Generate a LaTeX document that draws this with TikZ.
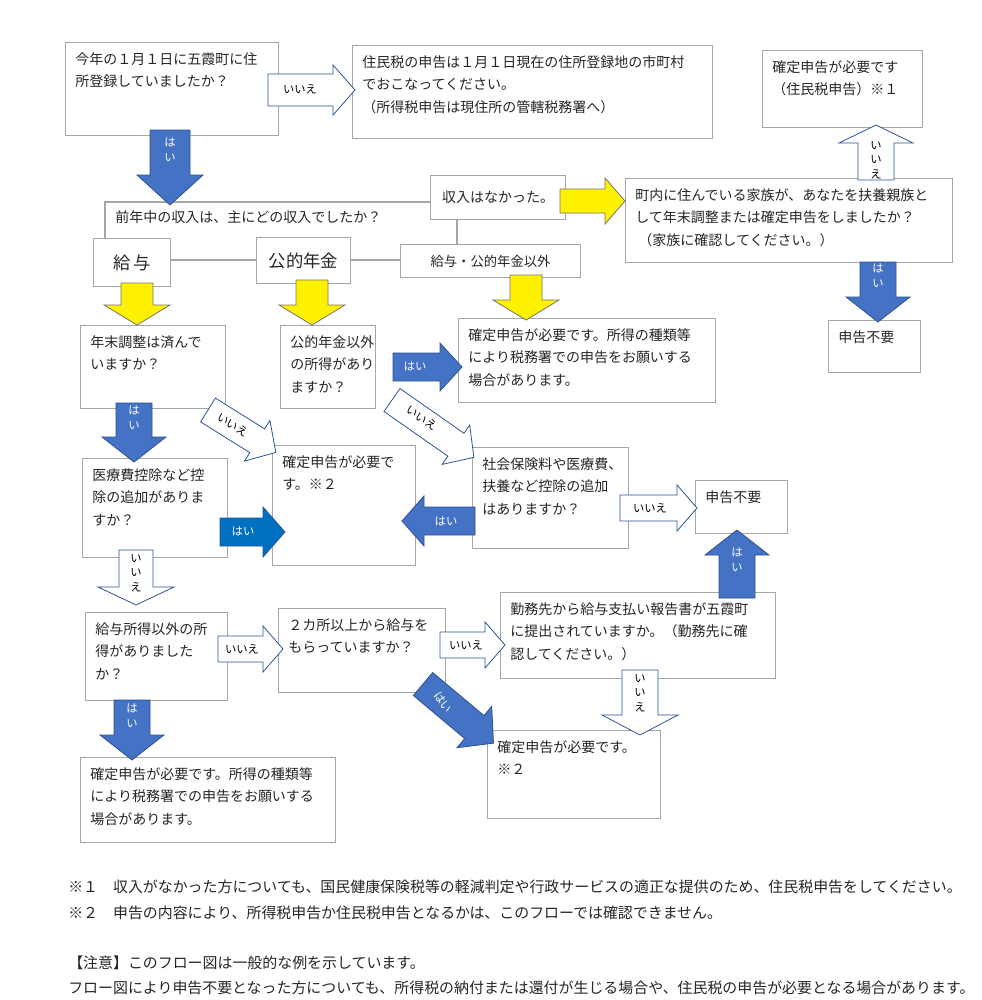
\documentclass[tikz,border=0pt]{standalone}
\usepackage{fontspec}
\setmainfont{Noto Sans CJK JP}
\usetikzlibrary{calc}
\definecolor{bfill}{HTML}{4472C4}
\definecolor{bline}{HTML}{2F528F}
\definecolor{bfill2}{HTML}{0070C0}
\definecolor{wline}{HTML}{2F5597}
\definecolor{boxline}{HTML}{A6A6A6}
\tikzset{
 bx/.style={draw=boxline,line width=0.8pt,fill=white,anchor=north west,inner sep=0pt},
 tx/.style={anchor=north west,align=left,inner sep=0pt,font=\fontsize{10.5}{17}\selectfont,text=black!85},
 nt/.style={anchor=north west,align=left,inner sep=0pt,font=\fontsize{11.2}{17}\selectfont,text=black!85},
 blue/.style={fill=bfill,draw=bline,line width=0.6pt},
 blue2/.style={fill=bfill2,draw=bline,line width=0.6pt},
 yel/.style={fill=yellow,draw=black!55,line width=0.6pt},
 wht/.style={fill=white,draw=wline,line width=0.6pt},
 arrt/.style={font=\fontsize{8.5}{11}\selectfont,align=center,inner sep=0pt},
}
\newcommand\blk[8]{\draw[#1,shift={(#2,#3)},rotate=#4] (0,-#6)--(#5-#8,-#6)--(#5-#8,-#7)--(#5,0)--(#5-#8,#7)--(#5-#8,#6)--(0,#6)--cycle;}
\newcommand\bxx[6]{\node[bx,minimum width=#4*0.75pt-#2*0.75pt,minimum height=#5*0.75pt-#3*0.75pt] (#1) at (#2,#3) {};\node[tx] (#1t) at (#2+10,#3+10) {#6};}
\begin{document}
\begin{tikzpicture}[x=0.75pt,y=-0.75pt]
\useasboundingbox[fill=white] (0,0) rectangle (982,1000);
% boxes
\bxx{a}{65}{42}{278}{135}{今年の１月１日に五霞町に住\\所登録していましたか？}
\bxx{b}{352}{45}{712}{138}{住民税の申告は１月１日現在の住所登録地の市町村\\でおこなってください。\\（所得税申告は現住所の管轄税務署へ）}
\bxx{c}{762}{50}{922}{127}{確定申告が必要です\\（住民税申告）※１}
\draw[draw=boxline,line width=0.8pt] (105,202) rectangle (457,260);
\node[tx] (q) at (115,210) {前年中の収入は、主にどの収入でしたか？};
\node[bx,minimum width=77*0.75pt,minimum height=48*0.75pt] (k1) at (93,238) {};
\node[font=\fontsize{13}{15}\selectfont,text=black!85] (k1t) at (k1.center) {給\,与};
\node[bx,minimum width=94*0.75pt,minimum height=46*0.75pt] (k2) at (256,237) {};
\node[font=\fontsize{13}{15}\selectfont,text=black!85] (k2t) at (k2.center) {公的年金};
\node[bx,minimum width=180*0.75pt,minimum height=33*0.75pt] (k3) at (400,244) {};
\node[font=\fontsize{10}{12}\selectfont,text=black!85] (k3t) at (k3.center) {給与・公的年金以外};
\node[bx,minimum width=135*0.75pt,minimum height=44*0.75pt] (k4) at (430,175) {};
\node[font=\fontsize{10.5}{12}\selectfont,text=black!85] (k4t) at (k4.center) {収入はなかった。};
\bxx{f}{625}{178}{952}{262}{町内に住んでいる家族が、あなたを扶養親族と\\して年末調整または確定申告をしましたか？\\\ （家族に確認してください。）}
\bxx{g}{828}{320}{920}{372}{申告不要}
\bxx{h}{80}{325}{225}{408}{年末調整は済んで\\いますか？}
\bxx{i}{280}{325}{375}{408}{公的年金以外\\の所得があり\\ますか？}
\bxx{j}{458}{318}{715}{402}{確定申告が必要です。所得の種類等\\により税務署での申告をお願いする\\場合があります。}
\bxx{l}{82}{458}{227}{557}{医療費控除など控\\除の追加がありま\\すか？}
\bxx{m}{272}{445}{415}{565}{確定申告が必要で\\す。※２}
\bxx{n}{472}{447}{628}{548}{社会保険料や医療費、\\扶養など控除の追加\\はありますか？}
\bxx{o}{695}{480}{787}{533}{申告不要}
\bxx{p}{85}{612}{227}{700}{給与所得以外の所\\得がありました\\か？}
\bxx{r}{278}{608}{445}{692}{２カ所以上から給与を\\もらっていますか？}
\bxx{s}{500}{592}{775}{678}{勤務先から給与支払い報告書が五霞町\\に提出されていますか。（勤務先に確\\認してください。）}
\bxx{t}{487}{730}{660}{818}{確定申告が必要です。\\※２}
\bxx{u}{80}{757}{335}{842}{確定申告が必要です。所得の種類等\\により税務署での申告をお願いする\\場合があります。}
% arrows
\blk{wht}{268}{90}{0}{87}{16}{25}{22}
\node[arrt] (a1) at (300,89) {いいえ};
\blk{blue}{170}{130}{-90}{75}{20}{33}{30}
\node[arrt,text=white] (a2) at (170,150) {は\\い};
\blk{yel}{560}{201}{0}{65}{12}{23}{20}
\blk{wht}{876}{180}{90}{55}{18}{37}{18}
\node[arrt] (a3) at (876,160) {い\\い\\え};
\blk{blue}{878}{262}{-90}{60}{18}{32}{25}
\node[arrt,text=white] (a4) at (878,276) {は\\い};
\blk{yel}{137}{283}{-90}{42}{16}{33}{20}
\blk{yel}{312}{280}{-90}{45}{16}{33}{20}
\blk{yel}{526}{275}{-90}{45}{16}{33}{20}
\blk{blue}{393}{367}{0}{69}{14}{24}{22}
\node[arrt,text=white] (a5) at (415,366) {はい};
\blk{blue}{134}{403}{-90}{59}{18}{32}{25}
\node[arrt,text=white] (a6) at (134,418) {は\\い};
\blk{wht}{208}{410}{-32}{80}{14}{24}{22}
\node[arrt,rotate=-32] (a7) at (233,425) {いいえ};
\blk{wht}{392}{400}{-35}{100}{14}{24}{22}
\node[arrt,rotate=-35] (a8) at (422,418) {いいえ};
\blk{blue2}{220}{532}{0}{65}{14}{25}{22}
\node[arrt,text=white] (a9) at (243,531) {はい};
\blk{blue}{475}{521}{180}{73}{14}{25}{22}
\node[arrt,text=white] (a10) at (446,521) {はい};
\blk{wht}{620}{508}{0}{77}{13}{23}{20}
\node[arrt] (a11) at (650,508) {いいえ};
\blk{blue}{737}{598}{90}{68}{18}{32}{25}
\node[arrt,text=white] (a12) at (737,560) {は\\い};
\blk{wht}{136}{550}{-90}{55}{17}{38}{18}
\node[arrt] (a13) at (136,573) {い\\い\\え};
\blk{wht}{218}{649}{0}{65}{13}{23}{20}
\node[arrt] (a14) at (242,649) {いいえ};
\blk{wht}{440}{645}{0}{65}{13}{23}{20}
\node[arrt] (a15) at (466,645) {いいえ};
\blk{wht}{640}{670}{-90}{65}{18}{38}{20}
\node[arrt] (a16) at (640,693) {い\\い\\え};
\blk{blue}{423}{684}{-40}{92}{15}{27}{25}
\node[arrt,text=white,rotate=-55] (a17) at (443,702) {はい};
\blk{blue}{132}{700}{-90}{60}{18}{32}{25}
\node[arrt,text=white] (a18) at (132,716) {は\\い};
% notes
\node[nt] (n1) at (68,880) {※１\quad 収入がなかった方についても、国民健康保険税等の軽減判定や行政サービスの適正な提供のため、住民税申告をしてください。};
\node[nt] (n2) at (68,906) {※２\quad 申告の内容により、所得税申告か住民税申告となるかは、このフローでは確認できません。};
\node[nt] (n3) at (68,956) {【注意】このフロー図は一般的な例を示しています。};
\node[nt] (n4) at (68,981) {フロー図により申告不要となった方についても、所得税の納付または還付が生じる場合や、住民税の申告が必要となる場合があります。};
\end{tikzpicture}
\end{document}
